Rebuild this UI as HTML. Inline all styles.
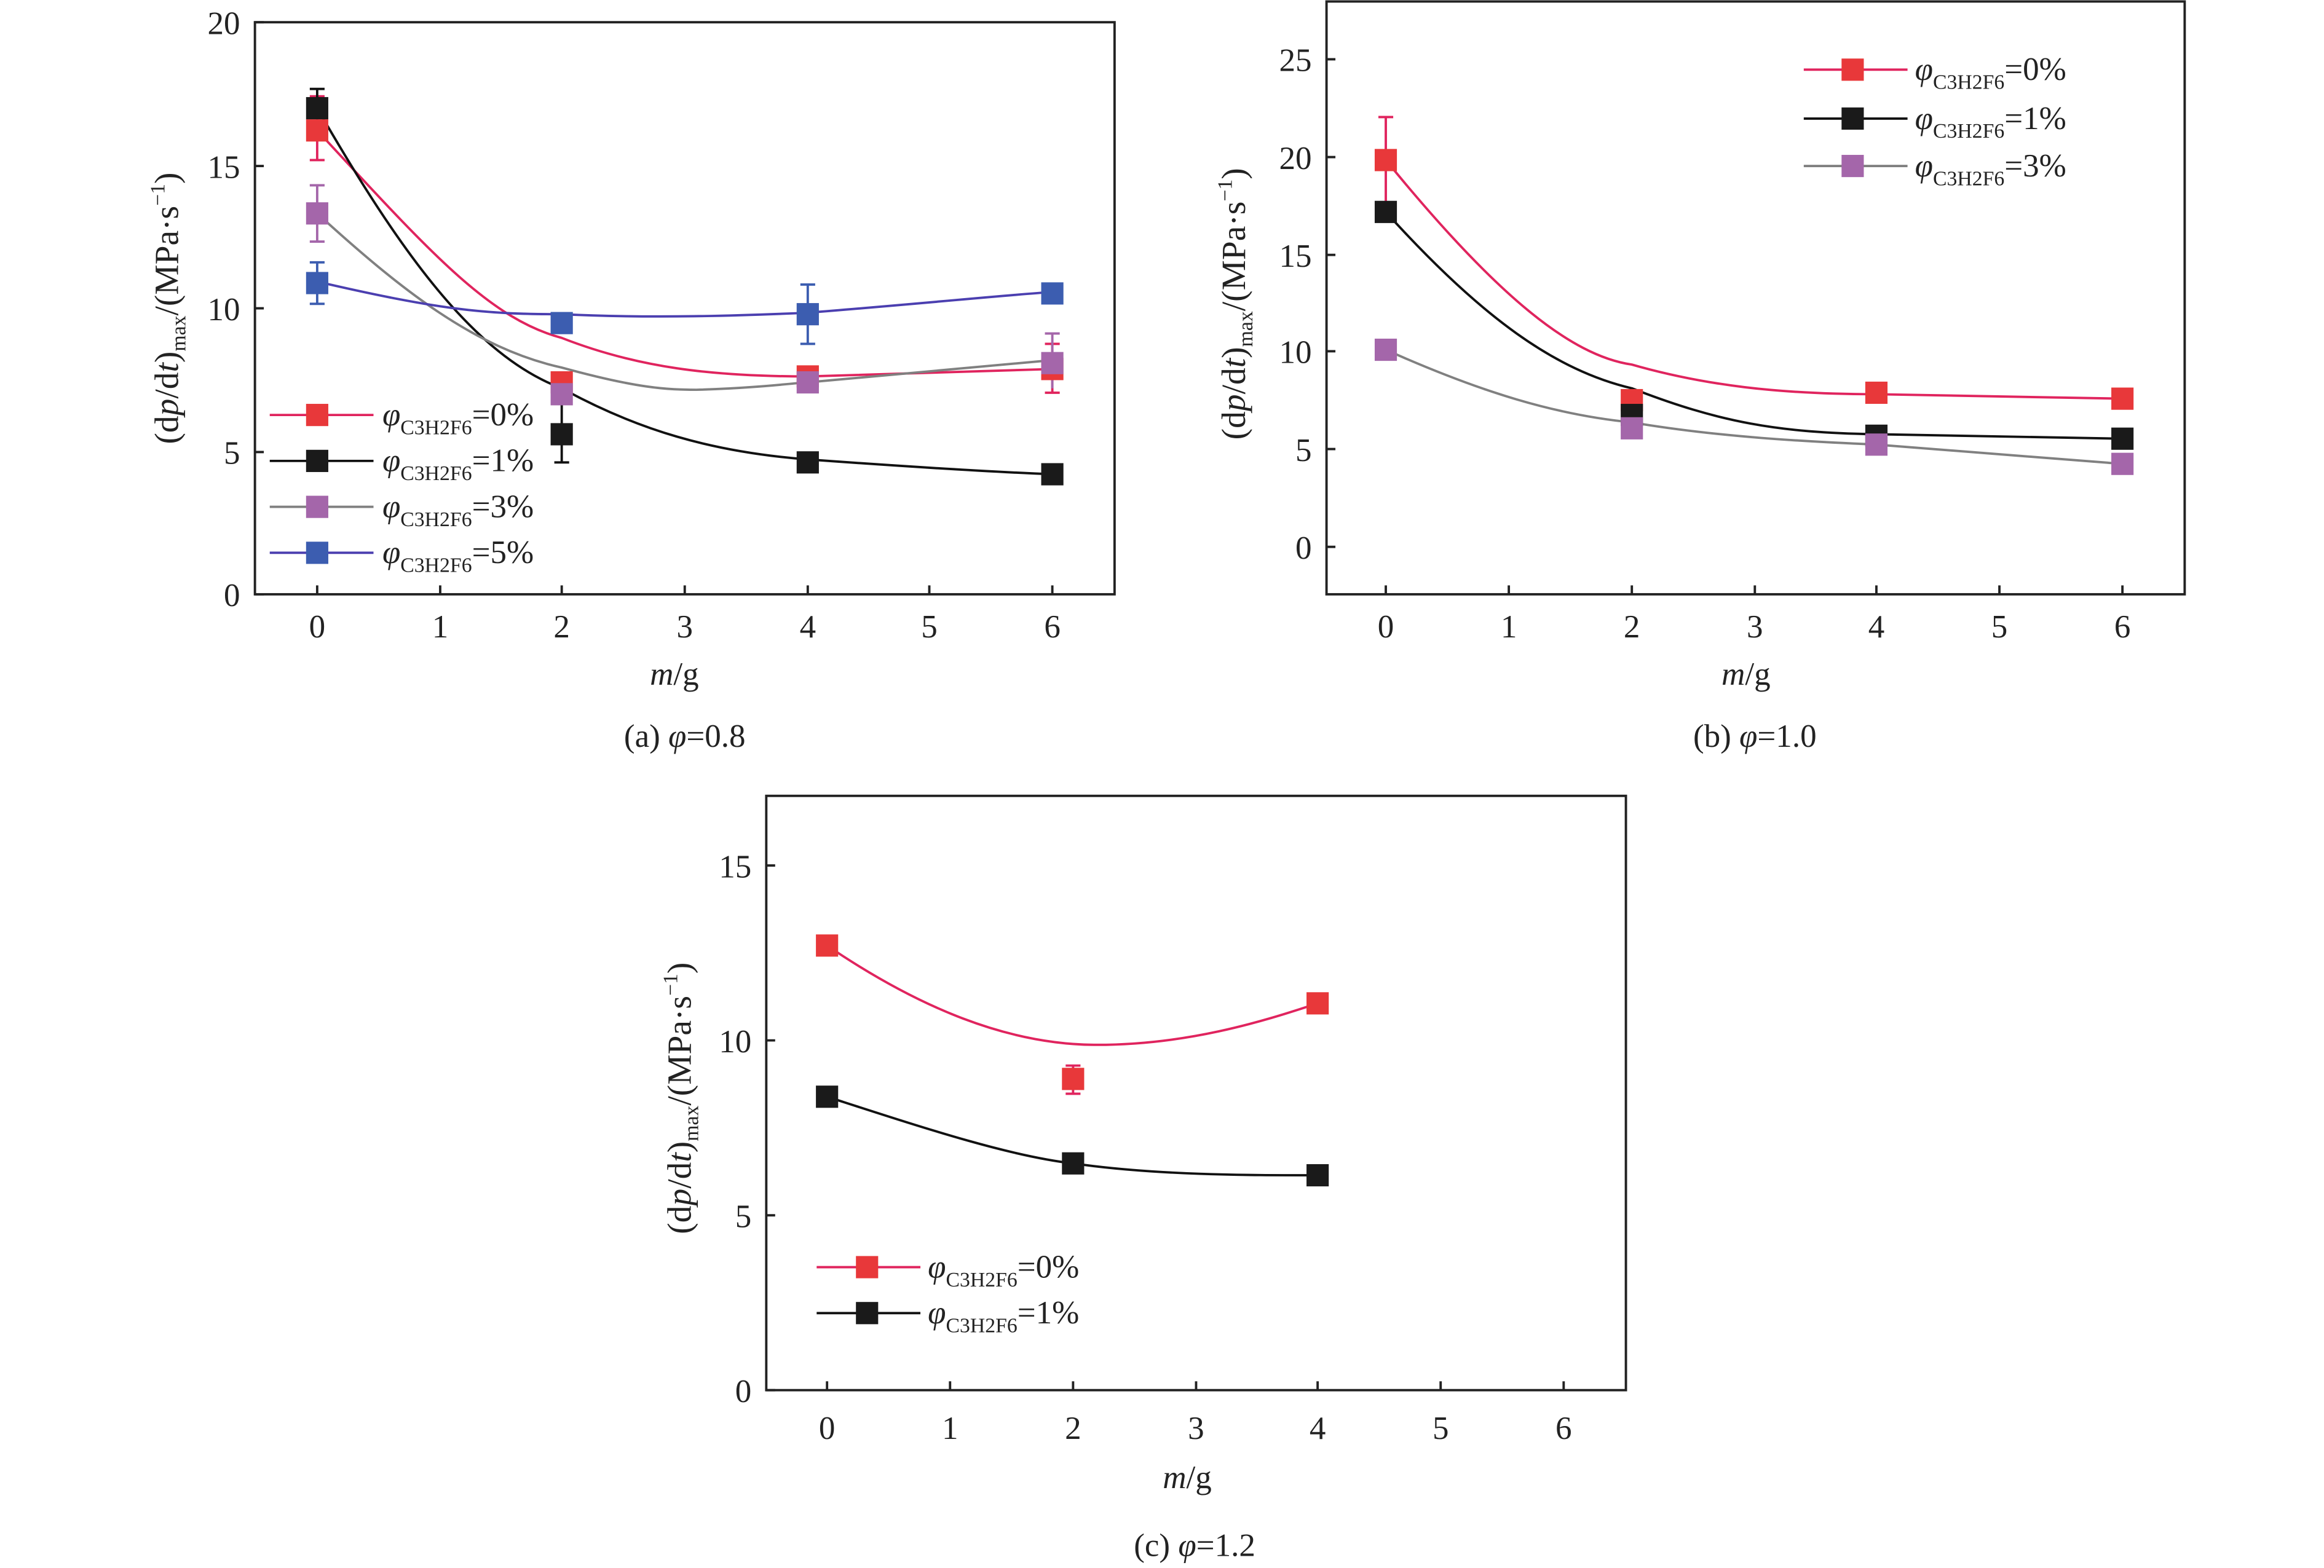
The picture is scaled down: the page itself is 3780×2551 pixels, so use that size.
<!DOCTYPE html>
<html><head><meta charset="utf-8"><style>
html,body{margin:0;padding:0;background:#fff}
svg{display:block}
text{font-family:"Liberation Serif",serif;fill:#222}
</style></head><body>
<svg width="3780" height="2551" viewBox="0 0 1568 1058" preserveAspectRatio="none" xmlns="http://www.w3.org/2000/svg">
<rect width="1568" height="1058" fill="#fff"/>
<defs>
<g id="mr"><rect x="-7.5" y="-7.5" width="15" height="15" fill="#e8383a"/></g>
<g id="mk"><rect x="-7.5" y="-7.5" width="15" height="15" fill="#1a1a1a"/></g>
<g id="mp"><rect x="-7.5" y="-7.5" width="15" height="15" fill="#a466aa"/></g>
<g id="mb"><rect x="-7.5" y="-7.5" width="15" height="15" fill="#3c5db0"/></g>
</defs>

<!-- ===== Chart (a) ===== -->
<g stroke="#222" stroke-width="1.6" fill="none">
<rect x="172" y="15" width="580" height="386"/>
<path d="M214,401v-6M297,401v-6M379,401v-6M462,401v-6M545,401v-6M627,401v-6M710,401v-6"/>
<path d="M172,401h6M172,305h6M172,208h6M172,112h6M172,15h6"/>
</g>
<g font-size="22" text-anchor="end">
<text x="162" y="409">0</text><text x="162" y="313">5</text><text x="162" y="216">10</text><text x="162" y="120">15</text><text x="162" y="23">20</text>
</g>
<g font-size="22" text-anchor="middle">
<text x="214" y="430">0</text><text x="297" y="430">1</text><text x="379" y="430">2</text><text x="462" y="430">3</text><text x="545" y="430">4</text><text x="627" y="430">5</text><text x="710" y="430">6</text>
<text x="455" y="462"><tspan font-style="italic">m</tspan>/g</text>
<text x="462" y="504">(a) <tspan font-style="italic">φ</tspan>=0.8</text>
</g>
<text font-size="23" text-anchor="middle" transform="translate(120,208) rotate(-90)">(d<tspan font-style="italic">p</tspan>/d<tspan font-style="italic">t</tspan>)<tspan font-size="14" dy="5">max</tspan><tspan dy="-5">/(MPa·s</tspan><tspan font-size="14" dy="-9">−1</tspan><tspan dy="9">)</tspan></text>
<!-- curves -->
<g fill="none" stroke-width="1.6">
<path stroke="#e0245e" d="M214,88 C290,170 330,215 379,228 C430,248 480,254 545,254 L710,249"/>
<path stroke="#111" d="M214,73 C270,170 320,240 379,262 C430,290 480,305 545,310 C600,314 660,318 710,320"/>
<path stroke="#808080" d="M214,144 C270,195 320,235 379,248 C430,262 450,263 470,263 C510,262 540,258 545,258 L710,243"/>
<path stroke="#4b3fb0" d="M214,190 C300,210 330,212 379,212 C440,215 500,213 545,211 C620,205 680,199 710,197"/>
</g>
<g stroke-width="1.6" fill="none">
<path stroke="#e0245e" d="M214,65V108M209,65h10M209,108h10M710,232V265M705,232h10M705,265h10"/>
<path stroke="#111" d="M214,60V80M209,60h10M379,270V312M374,312h10"/>
<path stroke="#a466aa" d="M214,125V163M209,125h10M209,163h10M710,225V262M705,225h10"/>
<path stroke="#3c5db0" d="M214,177V205M209,177h10M209,205h10M545,192V232M540,192h10M540,232h10"/>
</g>
<use href="#mr" x="214" y="88"/><use href="#mr" x="379" y="258"/><use href="#mr" x="545" y="254"/><use href="#mr" x="710" y="249"/>
<use href="#mk" x="214" y="73"/><use href="#mk" x="379" y="293"/><use href="#mk" x="545" y="312"/><use href="#mk" x="710" y="320"/>
<use href="#mp" x="214" y="144"/><use href="#mp" x="379" y="266"/><use href="#mp" x="545" y="258"/><use href="#mp" x="710" y="245"/>
<use href="#mb" x="214" y="191"/><use href="#mb" x="379" y="218"/><use href="#mb" x="545" y="212"/><use href="#mb" x="710" y="198"/>
<!-- legend a -->
<g stroke-width="1.6">
<line x1="182" y1="280" x2="252" y2="280" stroke="#e0245e"/>
<line x1="182" y1="311" x2="252" y2="311" stroke="#111"/>
<line x1="182" y1="342" x2="252" y2="342" stroke="#808080"/>
<line x1="182" y1="373" x2="252" y2="373" stroke="#4b3fb0"/>
</g>
<use href="#mr" x="214" y="280"/><use href="#mk" x="214" y="311"/><use href="#mp" x="214" y="342"/><use href="#mb" x="214" y="373"/>
<g font-size="22">
<text x="258" y="287"><tspan font-style="italic">φ</tspan><tspan font-size="14" dy="6">C3H2F6</tspan><tspan dy="-6">=0%</tspan></text>
<text x="258" y="318"><tspan font-style="italic">φ</tspan><tspan font-size="14" dy="6">C3H2F6</tspan><tspan dy="-6">=1%</tspan></text>
<text x="258" y="349"><tspan font-style="italic">φ</tspan><tspan font-size="14" dy="6">C3H2F6</tspan><tspan dy="-6">=3%</tspan></text>
<text x="258" y="380"><tspan font-style="italic">φ</tspan><tspan font-size="14" dy="6">C3H2F6</tspan><tspan dy="-6">=5%</tspan></text>
</g>

<!-- ===== Chart (b) ===== -->
<g stroke="#222" stroke-width="1.6" fill="none">
<rect x="895" y="1" width="579" height="400"/>
<path d="M935,401v-6M1018,401v-6M1101,401v-6M1184,401v-6M1266,401v-6M1349,401v-6M1432,401v-6"/>
<path d="M895,369h6M895,303h6M895,237h6M895,172h6M895,106h6M895,40h6"/>
</g>
<g font-size="22" text-anchor="end">
<text x="885" y="377">0</text><text x="885" y="311">5</text><text x="885" y="245">10</text><text x="885" y="180">15</text><text x="885" y="114">20</text><text x="885" y="48">25</text>
</g>
<g font-size="22" text-anchor="middle">
<text x="935" y="430">0</text><text x="1018" y="430">1</text><text x="1101" y="430">2</text><text x="1184" y="430">3</text><text x="1266" y="430">4</text><text x="1349" y="430">5</text><text x="1432" y="430">6</text>
<text x="1178" y="462"><tspan font-style="italic">m</tspan>/g</text>
<text x="1184" y="504">(b) <tspan font-style="italic">φ</tspan>=1.0</text>
</g>
<text font-size="23" text-anchor="middle" transform="translate(840,205) rotate(-90)">(d<tspan font-style="italic">p</tspan>/d<tspan font-style="italic">t</tspan>)<tspan font-size="14" dy="5">max</tspan><tspan dy="-5">/(MPa·s</tspan><tspan font-size="14" dy="-9">−1</tspan><tspan dy="9">)</tspan></text>
<g fill="none" stroke-width="1.6">
<path stroke="#e0245e" d="M935,108 C1010,200 1060,240 1101,246 C1150,260 1200,266 1266,266 L1432,269"/>
<path stroke="#111" d="M935,143 C1000,215 1050,250 1101,262 C1160,285 1200,292 1266,293 L1432,296"/>
<path stroke="#808080" d="M935,236 C1000,265 1050,280 1101,285 C1160,295 1220,298 1266,300 L1432,313"/>
<path stroke="#e0245e" d="M935,79V139M930,79h10M930,139h10"/>
</g>
<use href="#mr" x="935" y="108"/><use href="#mr" x="1101" y="270"/><use href="#mr" x="1266" y="265"/><use href="#mr" x="1432" y="269"/>
<use href="#mk" x="935" y="143"/><use href="#mk" x="1101" y="280"/><use href="#mk" x="1266" y="294"/><use href="#mk" x="1432" y="296"/>
<use href="#mp" x="935" y="236"/><use href="#mp" x="1101" y="289"/><use href="#mp" x="1266" y="300"/><use href="#mp" x="1432" y="313"/>
<g stroke-width="1.6">
<line x1="1217" y1="47" x2="1287" y2="47" stroke="#e0245e"/>
<line x1="1217" y1="80" x2="1287" y2="80" stroke="#111"/>
<line x1="1217" y1="112" x2="1287" y2="112" stroke="#808080"/>
</g>
<use href="#mr" x="1250" y="47"/><use href="#mk" x="1250" y="80"/><use href="#mp" x="1250" y="112"/>
<g font-size="22">
<text x="1292" y="54"><tspan font-style="italic">φ</tspan><tspan font-size="14" dy="6">C3H2F6</tspan><tspan dy="-6">=0%</tspan></text>
<text x="1292" y="87"><tspan font-style="italic">φ</tspan><tspan font-size="14" dy="6">C3H2F6</tspan><tspan dy="-6">=1%</tspan></text>
<text x="1292" y="119"><tspan font-style="italic">φ</tspan><tspan font-size="14" dy="6">C3H2F6</tspan><tspan dy="-6">=3%</tspan></text>
</g>

<!-- ===== Chart (c) ===== -->
<g stroke="#222" stroke-width="1.6" fill="none">
<rect x="517" y="537" width="580" height="401"/>
<path d="M558,938v-6M641,938v-6M724,938v-6M807,938v-6M889,938v-6M972,938v-6M1055,938v-6"/>
<path d="M517,938h6M517,820h6M517,702h6M517,584h6"/>
</g>
<g font-size="22" text-anchor="end">
<text x="507" y="946">0</text><text x="507" y="828">5</text><text x="507" y="710">10</text><text x="507" y="592">15</text>
</g>
<g font-size="22" text-anchor="middle">
<text x="558" y="971">0</text><text x="641" y="971">1</text><text x="724" y="971">2</text><text x="807" y="971">3</text><text x="889" y="971">4</text><text x="972" y="971">5</text><text x="1055" y="971">6</text>
<text x="801" y="1004"><tspan font-style="italic">m</tspan>/g</text>
<text x="806" y="1050">(c) <tspan font-style="italic">φ</tspan>=1.2</text>
</g>
<text font-size="23" text-anchor="middle" transform="translate(466,741) rotate(-90)">(d<tspan font-style="italic">p</tspan>/d<tspan font-style="italic">t</tspan>)<tspan font-size="14" dy="5">max</tspan><tspan dy="-5">/(MPa·s</tspan><tspan font-size="14" dy="-9">−1</tspan><tspan dy="9">)</tspan></text>
<g fill="none" stroke-width="1.6">
<path stroke="#e0245e" d="M558,638 C620,680 680,705 740,705 C800,705 850,690 889,677"/>
<path stroke="#111" d="M558,740 C620,760 680,780 724,785 C780,793 840,793 889,793"/>
<path stroke="#e0245e" d="M724,719V738M719,719h10M719,738h10"/>
</g>
<use href="#mr" x="558" y="638"/><use href="#mr" x="724" y="728"/><use href="#mr" x="889" y="677"/>
<use href="#mk" x="558" y="740"/><use href="#mk" x="724" y="785"/><use href="#mk" x="889" y="793"/>
<g stroke-width="1.6">
<line x1="551" y1="855" x2="621" y2="855" stroke="#e0245e"/>
<line x1="551" y1="886" x2="621" y2="886" stroke="#111"/>
</g>
<use href="#mr" x="585" y="855"/><use href="#mk" x="585" y="886"/>
<g font-size="22">
<text x="626" y="862"><tspan font-style="italic">φ</tspan><tspan font-size="14" dy="6">C3H2F6</tspan><tspan dy="-6">=0%</tspan></text>
<text x="626" y="893"><tspan font-style="italic">φ</tspan><tspan font-size="14" dy="6">C3H2F6</tspan><tspan dy="-6">=1%</tspan></text>
</g>
</svg>
</body></html>
